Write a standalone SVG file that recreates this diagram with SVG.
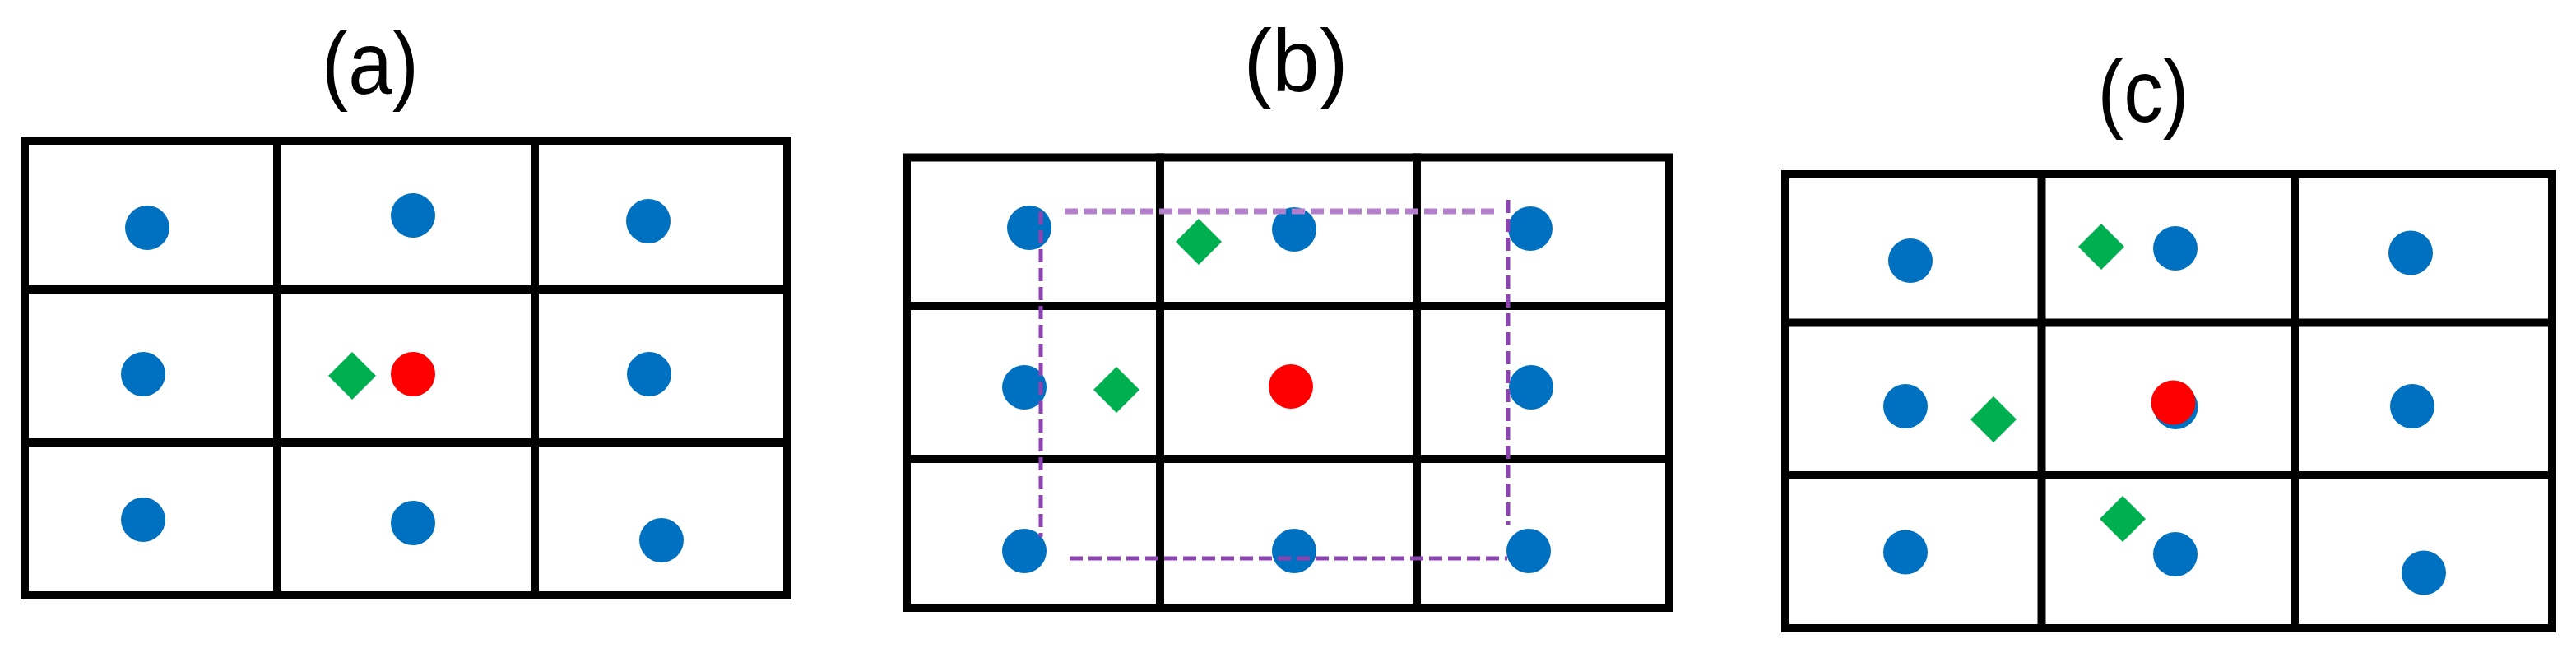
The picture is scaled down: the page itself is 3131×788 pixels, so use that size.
<svg xmlns="http://www.w3.org/2000/svg" width="3131" height="788" viewBox="0 0 3131 788">
<style>
.grid{fill:none;stroke:#000;stroke-width:10;stroke-linecap:square}
.blue{fill:#0070C0}
.red{fill:#FF0000}
.green{fill:#00B050}
.lbl{font-family:"Liberation Sans","Open Sans",Arial,sans-serif;font-size:108px;fill:#000;text-anchor:middle}
.dash{fill:none;stroke:#8E44B0;stroke-width:5;stroke-dasharray:16 7}
.dashlight{fill:none;stroke:#B480CC;stroke-width:7;stroke-dasharray:16 7}
</style>
<rect width="3131" height="788" fill="#fff"/>

<g id="panel-a">
<text class="lbl" x="450" y="114" textLength="118" lengthAdjust="spacingAndGlyphs">(a)</text>
<g id="grid-a" class="grid">
<rect x="30" y="171" width="927" height="553"/>
<line x1="337" y1="171" x2="337" y2="724"/>
<line x1="650" y1="171" x2="650" y2="724"/>
<line x1="30" y1="352" x2="957" y2="352"/>
<line x1="30" y1="538" x2="957" y2="538"/>
</g>
<g id="points-a">
<circle class="blue" cx="179" cy="277" r="27"/>
<circle class="blue" cx="502" cy="262" r="27"/>
<circle class="blue" cx="788" cy="269" r="27"/>
<circle class="blue" cx="174" cy="455" r="27"/>
<circle class="red" cx="502" cy="455" r="27"/>
<circle class="blue" cx="789" cy="455" r="27"/>
<circle class="blue" cx="174" cy="632" r="27"/>
<circle class="blue" cx="502" cy="636" r="27"/>
<circle class="blue" cx="804" cy="657" r="27"/>
<polygon class="green" points="428,428 457,457 428,486 399,457"/>
</g>
</g>

<g id="panel-b">
<text class="lbl" x="1575" y="111" textLength="127" lengthAdjust="spacingAndGlyphs">(b)</text>
<g id="grid-b" class="grid">
<rect x="1102" y="191.5" width="927" height="547.5"/>
<line x1="1410" y1="191.5" x2="1410" y2="739"/>
<line x1="1722" y1="191.5" x2="1722" y2="739"/>
<line x1="1102" y1="372" x2="2029" y2="372"/>
<line x1="1102" y1="558" x2="2029" y2="558"/>
</g>
<g id="points-b">
<circle class="blue" cx="1251" cy="277" r="27"/>
<circle class="blue" cx="1573" cy="279" r="27"/>
<circle class="blue" cx="1860" cy="278" r="27"/>
<circle class="blue" cx="1245" cy="471" r="27"/>
<circle class="red" cx="1569" cy="470" r="27"/>
<circle class="blue" cx="1861" cy="471" r="27"/>
<circle class="blue" cx="1245" cy="670" r="27"/>
<circle class="blue" cx="1573" cy="670" r="27"/>
<circle class="blue" cx="1858" cy="670" r="27"/>
<polygon class="green" points="1457,266 1485,294 1457,322 1429,294"/>
<polygon class="green" points="1357,446 1385,474 1357,502 1329,474"/>
</g>
<g id="connectors">
<line class="dashlight" x1="1294" y1="257" x2="1822" y2="257"/>
<line class="dash" x1="1265" y1="257" x2="1265" y2="653"/>
<line class="dash" x1="1833" y1="243" x2="1833" y2="638"/>
<line class="dash" x1="1300" y1="679" x2="1832" y2="679"/>
</g>
</g>

<g id="panel-c">
<text class="lbl" x="2605" y="148" textLength="111" lengthAdjust="spacingAndGlyphs">(c)</text>
<g id="grid-c" class="grid">
<rect x="2170" y="212" width="932" height="552"/>
<line x1="2481.5" y1="212" x2="2481.5" y2="764"/>
<line x1="2789" y1="212" x2="2789" y2="764"/>
<line x1="2170" y1="392.5" x2="3102" y2="392.5"/>
<line x1="2170" y1="578" x2="3102" y2="578"/>
</g>
<g id="points-c">
<circle class="blue" cx="2322" cy="317" r="27"/>
<circle class="blue" cx="2644" cy="302" r="27"/>
<circle class="blue" cx="2930" cy="307.5" r="27"/>
<circle class="blue" cx="2316" cy="494" r="27"/>
<circle class="blue" cx="2644.5" cy="495" r="27"/>
<circle class="red" cx="2641.5" cy="489.5" r="27"/>
<circle class="blue" cx="2932" cy="494" r="27"/>
<circle class="blue" cx="2316" cy="671.5" r="27"/>
<circle class="blue" cx="2644" cy="674" r="27"/>
<circle class="blue" cx="2946" cy="696.5" r="27"/>
<polygon class="green" points="2554,272 2582,300 2554,328 2526,300"/>
<polygon class="green" points="2423,482 2451,510 2423,538 2395,510"/>
<polygon class="green" points="2580,603 2608,631 2580,659 2552,631"/>
</g>
</g>
</svg>
